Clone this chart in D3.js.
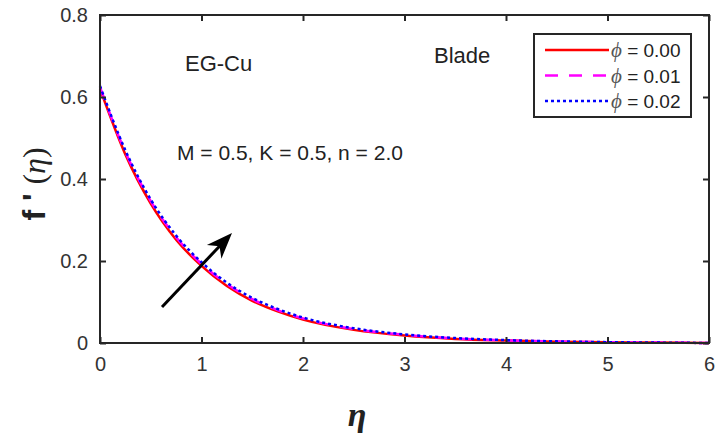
<!DOCTYPE html>
<html>
<head>
<meta charset="utf-8">
<script src="https://cdn.jsdelivr.net/npm/d3@7"></script>
<style>
  body { margin: 0; background: #fff; }
  svg { display: block; font-family: "Liberation Sans", Arial, sans-serif; }
</style>
</head>
<body>
<div id="chart"></div>
<script>
"use strict";

// values
var eta = [0, 0.25, 0.5, 0.75, 1.0, 1.25, 1.5, 1.75, 2.0, 2.5, 3.0, 3.5, 4.0, 4.5, 5.0, 5.5, 6.0];
var phi000 = [0.620, 0.460, 0.340, 0.252, 0.188, 0.139, 0.103, 0.077, 0.057, 0.032, 0.018, 0.010, 0.006, 0.003, 0.002, 0.001, 0.000];
var phi001 = [0.624, 0.466, 0.346, 0.258, 0.193, 0.144, 0.107, 0.080, 0.060, 0.034, 0.020, 0.011, 0.0065, 0.0035, 0.002, 0.001, 0.000];
var phi002 = [0.627, 0.470, 0.350, 0.262, 0.197, 0.147, 0.110, 0.083, 0.062, 0.036, 0.021, 0.012, 0.007, 0.004, 0.002, 0.001, 0.000];
var seriesNames = ["0.00", "0.01", "0.02"];
var xTicks = [0, 1, 2, 3, 4, 5, 6];
var yTicks = [0, 0.2, 0.4, 0.6, 0.8];

var width = 719, height = 441;
var margin = {left: 100, right: 10, top: 15, bottom: 98};
var axisColor = "#262626";

var svg = d3.select("#chart").append("svg")
    .attr("width", width)
    .attr("height", height);

var x = d3.scaleLinear().domain([0, 6]).range([margin.left, width - margin.right]);
var y = d3.scaleLinear().domain([0, 0.8]).range([height - margin.bottom, margin.top]);

var series = [
    {name: seriesNames[0], values: phi000, color: "#ff0000", dash: null},
    {name: seriesNames[1], values: phi001, color: "#ff00ff", dash: "13,11"},
    {name: seriesNames[2], values: phi002, color: "#0000ff", dash: "3,3"}
];

var line = d3.line()
    .x(function(d, i) { return x(eta[i]); })
    .y(function(d) { return y(d); })
    .curve(d3.curveMonotoneX);

svg.selectAll(".curve")
    .data(series)
    .enter().append("path")
    .attr("class", "curve")
    .attr("d", function(d) { return line(d.values); })
    .attr("fill", "none")
    .attr("stroke", function(d) { return d.color; })
    .attr("stroke-width", 2.5)
    .attr("stroke-dasharray", function(d) { return d.dash; });

// axes, ticks pointing inward, on all four sides
function styleAxis(g) {
    g.select(".domain").remove();
    g.selectAll(".tick line").attr("stroke", axisColor).attr("stroke-width", 2);
    g.selectAll(".tick text").attr("fill", "#333").style("font-size", "20px")
        .style("font-family", "'Liberation Sans', Arial, sans-serif");
}

svg.append("g")
    .attr("transform", "translate(0," + y(0) + ")")
    .call(d3.axisBottom(x).tickValues(xTicks).tickSize(-6).tickPadding(14).tickFormat(d3.format("d")))
    .call(styleAxis);

svg.append("g")
    .attr("transform", "translate(" + x(0) + ",0)")
    .call(d3.axisLeft(y).tickValues(yTicks).tickSize(-6).tickPadding(12)
        .tickFormat(function(d) { return d === 0 ? "0" : d3.format(".1f")(d); }))
    .call(styleAxis);

svg.append("g")
    .attr("transform", "translate(0," + y(0.8) + ")")
    .call(d3.axisTop(x).tickValues(xTicks).tickSize(-6).tickFormat(""))
    .call(styleAxis);

svg.append("g")
    .attr("transform", "translate(" + x(6) + ",0)")
    .call(d3.axisRight(y).tickValues(yTicks).tickSize(-6).tickFormat(""))
    .call(styleAxis);

svg.append("rect")
    .attr("x", x(0)).attr("y", y(0.8))
    .attr("width", x(6) - x(0)).attr("height", y(0) - y(0.8))
    .attr("fill", "none").attr("stroke", axisColor).attr("stroke-width", 2);

// axis labels
svg.append("text")
    .attr("x", 357).attr("y", 426)
    .attr("text-anchor", "middle")
    .style("font-family", "'Liberation Serif', 'Times New Roman', serif")
    .style("font-style", "italic").style("font-weight", "bold")
    .style("font-size", "34px")
    .attr("fill", "#222")
    .text("η");

var ylab = svg.append("text")
    .attr("transform", "translate(45,184) rotate(-90)")
    .attr("text-anchor", "middle")
    .attr("fill", "#222")
    .style("font-size", "32px");
ylab.append("tspan").style("font-weight", "bold").text("f ' ");
ylab.append("tspan").style("font-family", "'Liberation Serif', serif").text("(");
ylab.append("tspan").style("font-family", "'Liberation Serif', serif").style("font-style", "italic").text("η");
ylab.append("tspan").style("font-family", "'Liberation Serif', serif").text(")");

// annotations
svg.append("text").attr("x", 185).attr("y", 71).style("font-size", "22px").attr("fill", "#222").text("EG-Cu");
svg.append("text").attr("x", 434).attr("y", 63).style("font-size", "22px").attr("fill", "#222").text("Blade");
svg.append("text").attr("x", 177).attr("y", 160).style("font-size", "21px").attr("fill", "#222").text("M = 0.5, K = 0.5, n = 2.0");

// arrow
var ax0 = 162, ay0 = 307, ax1 = 232, ay1 = 233;
var ang = Math.atan2(ay1 - ay0, ax1 - ax0);
var headLen = 26, headW = 10;
svg.append("line")
    .attr("x1", ax0).attr("y1", ay0)
    .attr("x2", ax1 - Math.cos(ang) * 12).attr("y2", ay1 - Math.sin(ang) * 12)
    .attr("stroke", "#000").attr("stroke-width", 3);
function pt(along, across) {
    return [ax1 - Math.cos(ang) * along - Math.sin(ang) * across,
            ay1 - Math.sin(ang) * along + Math.cos(ang) * across];
}
svg.append("path")
    .attr("d", "M" + [ax1, ay1] + "L" + pt(headLen, headW) + "L" + pt(headLen * 0.7, 0) + "L" + pt(headLen, -headW) + "Z")
    .attr("fill", "#000");

// legend
var legend = svg.append("g");
legend.append("rect")
    .attr("x", 534).attr("y", 34).attr("width", 157).attr("height", 83)
    .attr("fill", "#fff").attr("stroke", axisColor).attr("stroke-width", 2);

var rows = legend.selectAll(".row")
    .data(series)
    .enter().append("g")
    .attr("class", "row")
    .attr("transform", function(d, i) { return "translate(0," + (50 + i * 25.5) + ")"; });

rows.append("line")
    .attr("x1", 545).attr("x2", 609)
    .attr("stroke", function(d) { return d.color; })
    .attr("stroke-width", 2.5)
    .attr("stroke-dasharray", function(d) { return d.dash; });

var lt = rows.append("text")
    .attr("x", 611).attr("y", 7)
    .style("font-size", "19px")
    .attr("fill", "#222");
lt.append("tspan")
    .style("font-family", "'Liberation Serif', serif")
    .style("font-style", "italic")
    .style("font-size", "21px")
    .attr("fill", "#555")
    .text("ϕ");
lt.append("tspan").text(function(d) { return " = " + d.name; });
</script>
</body>
</html>
